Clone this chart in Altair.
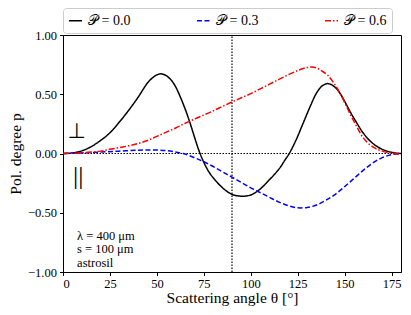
import altair as alt
import pandas as pd

labels = ["𝒫 = 0.0", "𝒫 = 0.3", "𝒫 = 0.6"]
colors = ["#000000", "#0000ff", "#ff0000"]
dashes = [[1, 0], [5, 2.5], [6, 2, 1.5, 2]]

black_theta = [0, 5, 10, 15, 20, 25, 30, 35, 40, 45, 48, 50, 52, 54, 56, 58, 60, 62, 65, 67.5, 70,
               72.5, 75, 77.5, 80, 85, 90, 95, 100, 105, 110, 113, 116, 118, 120.5, 124, 128, 132,
               135, 138, 141, 144, 147, 150, 153, 156, 160, 165, 170, 175, 180]
black_p = [0, 0.005, 0.022, 0.058, 0.11, 0.175, 0.265, 0.365, 0.475, 0.595, 0.643, 0.663, 0.672,
           0.665, 0.645, 0.612, 0.563, 0.495, 0.378, 0.265, 0.14, 0.02, -0.075, -0.15, -0.205,
           -0.29, -0.345, -0.36, -0.35, -0.3, -0.22, -0.17, -0.11, -0.06, 0, 0.11, 0.26, 0.41,
           0.51, 0.57, 0.59, 0.57, 0.52, 0.44, 0.35, 0.27, 0.17, 0.085, 0.035, 0.01, 0]

blue_theta = [0, 10, 20, 30, 40, 45, 50, 55, 60, 64, 70, 75, 80, 85, 90, 95, 100, 105, 110, 115,
              120, 125, 130, 135, 140, 145, 150, 155, 160, 165, 170, 175, 180]
blue_p = [0, 0.005, 0.012, 0.02, 0.028, 0.03, 0.029, 0.024, 0.012, 0, -0.035, -0.07, -0.11,
          -0.155, -0.2, -0.245, -0.29, -0.33, -0.37, -0.41, -0.44, -0.458, -0.455, -0.435,
          -0.395, -0.345, -0.28, -0.21, -0.14, -0.08, -0.035, -0.01, 0]

red_theta = [0, 10, 20, 25, 30, 35, 40, 45, 50, 55, 60, 65, 70, 75, 80, 85, 90, 95, 100, 105, 110,
             115, 120, 125, 128, 130, 132.5, 135, 138, 141, 144, 147, 150, 153, 156, 160, 165,
             170, 175, 180]
red_p = [0, 0.005, 0.02, 0.035, 0.05, 0.065, 0.085, 0.11, 0.145, 0.18, 0.215, 0.255, 0.29, 0.325,
         0.36, 0.398, 0.435, 0.47, 0.505, 0.545, 0.585, 0.625, 0.665, 0.7, 0.718, 0.725, 0.73,
         0.722, 0.695, 0.66, 0.6, 0.525, 0.43, 0.33, 0.24, 0.13, 0.055, 0.02, 0.003, -0.01]

x_ticks = [0, 25, 50, 75, 100, 125, 150, 175]
y_ticks = [-1.0, -0.75, -0.5, -0.25, 0.0, 0.25, 0.5, 0.75, 1.0]

vline_theta = [90.0, 90.0]
vline_p = [-1.0, 1.0]

ann_theta = [7.5, 7.5, 7.5]
ann_p = [-0.70, -0.81, -0.92]
ann_text = ["λ = 400 μm", "s = 100 μm", "astrosil"]

perp_theta, perp_p = [7.2], [0.18]
par_theta, par_p = [8.1], [-0.19]

rows = []
for lab, th, pv in zip(labels, [black_theta, blue_theta, red_theta], [black_p, blue_p, red_p]):
    for t, v in zip(th, pv):
        rows.append({"theta": t, "p": v, "series": lab})
df = pd.DataFrame(rows)

FONT = "Liberation Serif"

xs = alt.Scale(domain=[0, 180], nice=False, zero=False)
ys = alt.Scale(domain=[-1, 1], nice=False, zero=False)

leg = alt.Legend(
    title=None, orient="none", legendX=0, legendY=-27, direction="horizontal", columns=3,
    columnPadding=62, symbolType="stroke", symbolSize=170, symbolStrokeWidth=1.5,
    labelFont=FONT, labelFontSize=14, labelOffset=5, fillColor="white", strokeColor="#cccccc",
    cornerRadius=3, padding=5, labelColor="black",
)

lines = alt.Chart(df).mark_line(strokeWidth=1.5, interpolate="catmull-rom").encode(
    x=alt.X("theta:Q", scale=xs,
            axis=alt.Axis(values=x_ticks, title="Scattering angle θ [°]", format="d",
                          labelPadding=1.5, titlePadding=1)),
    y=alt.Y("p:Q", scale=ys,
            axis=alt.Axis(values=y_ticks, title="Pol. degree p", format=".2f")),
    color=alt.Color("series:N", scale=alt.Scale(domain=labels, range=colors), legend=leg),
    strokeDash=alt.StrokeDash("series:N", scale=alt.Scale(domain=labels, range=dashes), legend=leg),
)

hrule = alt.Chart(pd.DataFrame({"p": [0.0]})).mark_rule(
    color="black", strokeWidth=1.2, strokeDash=[1.5, 1.5]).encode(y=alt.Y("p:Q", scale=ys))
vline = alt.Chart(pd.DataFrame({"theta": vline_theta, "p": vline_p})).mark_line(
    color="black", strokeWidth=1.2, strokeDash=[1.5, 1.5], clip=True).encode(
    x=alt.X("theta:Q", scale=xs), y=alt.Y("p:Q", scale=ys))

ann = alt.Chart(pd.DataFrame({"theta": ann_theta, "p": ann_p, "t": ann_text})).mark_text(
    align="left", baseline="middle", font=FONT, fontSize=12.5, color="black").encode(
    x=alt.X("theta:Q", scale=xs), y=alt.Y("p:Q", scale=ys), text="t:N")

perp = alt.Chart(pd.DataFrame({"theta": perp_theta, "p": perp_p, "t": ["⊥"]})).mark_text(
    align="center", baseline="middle", font="DejaVu Sans", fontSize=21,
    color="black").encode(x=alt.X("theta:Q", scale=xs), y=alt.Y("p:Q", scale=ys), text="t:N")

par = alt.Chart(pd.DataFrame({"theta": par_theta, "p": par_p, "t": ["||"]})).mark_text(
    align="center", baseline="middle", font=FONT, fontSize=26,
    color="black").encode(x=alt.X("theta:Q", scale=xs), y=alt.Y("p:Q", scale=ys), text="t:N")

chart = alt.layer(hrule, vline, lines, ann, perp, par).properties(
    width=338, height=237, autosize="none",
    padding={"left": 55, "top": 27, "right": 2, "bottom": 35},
).configure_view(stroke="black", strokeWidth=1).configure_axis(
    grid=False, domainColor="black", tickColor="black", tickSize=3.5, labelFont=FONT,
    labelFontSize=12.5, labelColor="black", titleFont=FONT, titleFontSize=15.5,
    titleFontWeight="normal", titleColor="black", labelPadding=3,
)

chart.save("out.html", embed_options={"renderer": "svg", "actions": False})
